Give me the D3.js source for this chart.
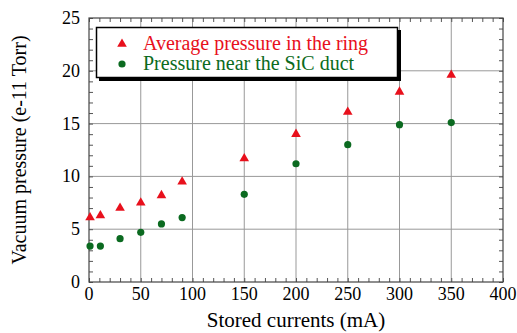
<!DOCTYPE html>
<html>
<head>
<meta charset="utf-8">
<script src="https://cdn.jsdelivr.net/npm/d3@7"></script>
<style>
  body { margin: 0; background: #fff; }
  svg text { font-family: "Liberation Serif", "DejaVu Serif", Tinos, "Nimbus Roman", FreeSerif, Times, serif; }
</style>
</head>
<body>
<div id="chart"></div>
<script>
// stored current (mA)
const currents = [1, 11, 30, 50, 70, 90, 150, 200, 250, 300, 350];
// pressure values (e-11 Torr)
const avgRing = [6.1, 6.3, 7.0, 7.5, 8.2, 9.5, 11.7, 14.0, 16.1, 18.0, 19.6];
const nearSiC = [3.4, 3.4, 4.1, 4.7, 5.5, 6.1, 8.3, 11.2, 13.0, 14.9, 15.1];
const xTicks = [0, 50, 100, 150, 200, 250, 300, 350, 400];
const yTicks = [0, 5, 10, 15, 20, 25];
const seriesNames = ['Average pressure in the ring', 'Pressure near the SiC duct'];

const width = 517, height = 333;
const mLeft = 89, mRight = 503, mTop = 18, mBottom = 282;
const red = '#e8101c', green = '#0b6a20';

const svg = d3.select('#chart').append('svg')
  .attr('width', width)
  .attr('height', height);

const x = d3.scaleLinear().domain([0, 400]).range([mLeft, mRight]);
const y = d3.scaleLinear().domain([0, 25]).range([mBottom, mTop]);

// grid
svg.append('g').selectAll('line')
  .data(xTicks.slice(1, -1))
  .join('line')
  .attr('x1', d => x(d)).attr('x2', d => x(d))
  .attr('y1', mTop).attr('y2', mBottom)
  .attr('stroke', '#999').attr('stroke-width', 1);
svg.append('g').selectAll('line')
  .data(yTicks.slice(1, -1))
  .join('line')
  .attr('x1', mLeft).attr('x2', mRight)
  .attr('y1', d => y(d)).attr('y2', d => y(d))
  .attr('stroke', '#999').attr('stroke-width', 1);

// axes with inward ticks on all sides
const xMinor = d3.range(0, 401, 10);
const yMinor = d3.range(0, 26, 1);

svg.append('g')
  .attr('transform', `translate(0,${mBottom})`)
  .call(d3.axisBottom(x).tickValues(xMinor).tickSize(-4).tickFormat(''))
  .call(g => g.select('.domain').remove());
svg.append('g')
  .attr('transform', `translate(0,${mTop})`)
  .call(d3.axisTop(x).tickValues(xMinor).tickSize(-4).tickFormat(''))
  .call(g => g.select('.domain').remove());
svg.append('g')
  .attr('transform', `translate(${mLeft},0)`)
  .call(d3.axisLeft(y).tickValues(yMinor).tickSize(-4).tickFormat(''))
  .call(g => g.select('.domain').remove());
svg.append('g')
  .attr('transform', `translate(${mRight},0)`)
  .call(d3.axisRight(y).tickValues(yMinor).tickSize(-4).tickFormat(''))
  .call(g => g.select('.domain').remove());
svg.selectAll('.tick line').attr('stroke', '#555');

// frame
svg.append('rect')
  .attr('x', mLeft).attr('y', mTop)
  .attr('width', mRight - mLeft).attr('height', mBottom - mTop)
  .attr('fill', 'none').attr('stroke', '#444').attr('stroke-width', 1.2);

// tick labels
svg.append('g').selectAll('text')
  .data(xTicks)
  .join('text')
  .attr('x', d => x(d)).attr('y', mBottom + 18)
  .attr('text-anchor', 'middle')
  .style('font-size', '18px')
  .text(d => d);
svg.append('g').selectAll('text')
  .data(yTicks)
  .join('text')
  .attr('x', mLeft - 9).attr('y', d => y(d) + 6)
  .attr('text-anchor', 'end')
  .style('font-size', '18px')
  .text(d => d);

// axis titles
svg.append('text')
  .attr('x', (mLeft + mRight) / 2).attr('y', 327)
  .attr('text-anchor', 'middle')
  .style('font-size', '21px')
  .text('Stored currents (mA)');
svg.append('text')
  .attr('transform', `translate(26,${(mTop + mBottom) / 2}) rotate(-90)`)
  .attr('text-anchor', 'middle')
  .style('font-size', '20px')
  .text('Vacuum pressure (e-11 Torr)');

// markers
const tri = d3.symbol().type(d3.symbolTriangle).size(40);
svg.append('g').selectAll('path')
  .data(currents.map((c, i) => [c, avgRing[i]]))
  .join('path')
  .attr('d', tri)
  .attr('transform', d => `translate(${x(d[0])},${y(d[1])})`)
  .attr('fill', red);
svg.append('g').selectAll('circle')
  .data(currents.map((c, i) => [c, nearSiC[i]]))
  .join('circle')
  .attr('cx', d => x(d[0])).attr('cy', d => y(d[1]))
  .attr('r', 3.6)
  .attr('fill', green);

// legend
const lg = svg.append('g');
lg.append('rect')
  .attr('x', 99).attr('y', 30).attr('width', 302).attr('height', 51)
  .attr('fill', '#000');
lg.append('rect')
  .attr('x', 96.5).attr('y', 27.5).attr('width', 301).attr('height', 50)
  .attr('fill', '#fff').attr('stroke', '#000').attr('stroke-width', 1.5);
lg.append('path')
  .attr('d', tri)
  .attr('transform', 'translate(122,44)')
  .attr('fill', red);
lg.append('circle')
  .attr('cx', 122).attr('cy', 64).attr('r', 3.6)
  .attr('fill', green);
lg.append('text')
  .attr('x', 143).attr('y', 50)
  .attr('fill', red)
  .style('font-size', '20px')
  .text(seriesNames[0]);
lg.append('text')
  .attr('x', 143).attr('y', 70)
  .attr('fill', green)
  .style('font-size', '20px')
  .text(seriesNames[1]);
</script>
</body>
</html>
